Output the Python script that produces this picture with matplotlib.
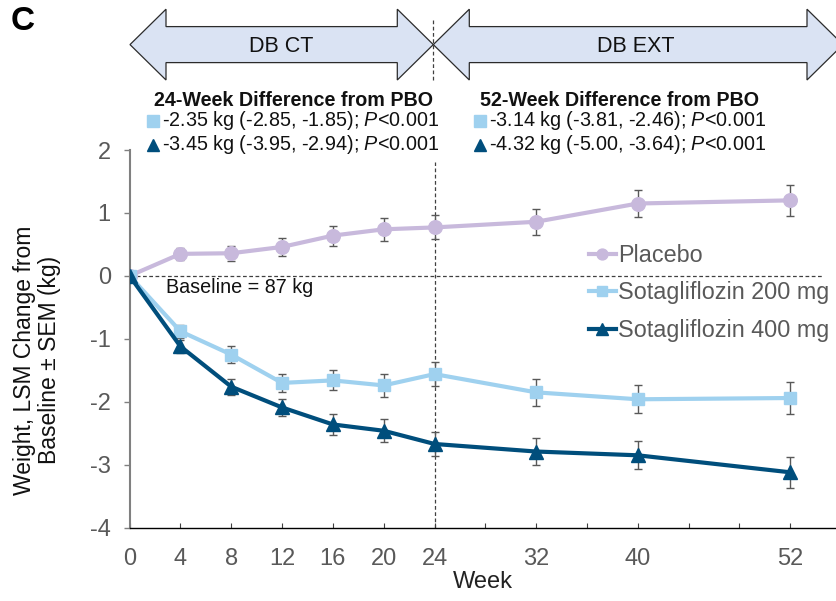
import matplotlib
matplotlib.use('Agg')
import matplotlib.pyplot as plt
from matplotlib.patches import Polygon
from matplotlib.lines import Line2D

plt.rcParams['font.family'] = ['Liberation Sans', 'DejaVu Sans']
plt.rcParams['mathtext.fontset'] = 'custom'
plt.rcParams['mathtext.rm'] = 'Liberation Sans'
plt.rcParams['mathtext.it'] = 'Liberation Sans:italic'
NARROW = ['Liberation Sans Narrow', 'Liberation Sans', 'DejaVu Sans']

# ── data ──────────────────────────────────────────────────────────────────
weeks = [0, 4, 8, 12, 16, 20, 24, 32, 40, 52]
placebo = [0, 0.35, 0.36, 0.46, 0.64, 0.74, 0.77, 0.86, 1.15, 1.20]
placebo_sem = [0, 0.10, 0.12, 0.14, 0.16, 0.18, 0.19, 0.21, 0.22, 0.25]
sota200 = [0, -0.88, -1.25, -1.70, -1.66, -1.74, -1.56, -1.85, -1.96, -1.94]
sota200_sem = [0, 0.10, 0.13, 0.14, 0.16, 0.18, 0.19, 0.21, 0.22, 0.25]
sota400 = [0, -1.12, -1.76, -2.09, -2.36, -2.46, -2.67, -2.79, -2.85, -3.12]
sota400_sem = [0, 0.10, 0.13, 0.14, 0.16, 0.18, 0.19, 0.21, 0.22, 0.25]

xticks = list(range(0, 53, 4))
xtick_labels = ['0', '4', '8', '12', '16', '20', '24', '', '32', '', '40', '', '', '52']
yticks = [-4, -3, -2, -1, 0, 1, 2]

diff24 = ['-2.35 kg (-2.85, -1.85); $\\it{P}$<0.001',
          '-3.45 kg (-3.95, -2.94); $\\it{P}$<0.001']
diff52 = ['-3.14 kg (-3.81, -2.46); $\\it{P}$<0.001',
          '-4.32 kg (-5.00, -3.64); $\\it{P}$<0.001']

PBO_C = '#c8b9dc'
S200_C = '#9fd1ef'
S400_C = '#004e7c'
GREY = '#595959'

W, H = 836, 601
fig = plt.figure(figsize=(W / 100, H / 100), dpi=100)


def px(x, y):
    return x / W, 1 - y / H


# ── main axes ─────────────────────────────────────────────────────────────
L, R, T, B = 129.6, 836, 150, 527.7
ax = fig.add_axes([L / W, 1 - B / H, (R - L) / W, (B - T) / H])
ax.set_xlim(0, 55.6)
ax.set_ylim(-4, 2)

ax.hlines(0, 0, 54.6, colors='#404040', linestyles=(0, (3, 2)), lw=0.9, zorder=1)
ax.vlines(24, -4, 1.81, colors='#404040', linestyles=(0, (3, 2)), lw=0.9, zorder=1)

series = [(placebo, placebo_sem, PBO_C, 'o', 9.8, 'Placebo'),
          (sota200, sota200_sem, S200_C, 's', 9, 'Sotagliflozin 200 mg'),
          (sota400, sota400_sem, S400_C, '^', 10, 'Sotagliflozin 400 mg')]
for vals, sem, col, mk, ms, lbl in series:
    ax.errorbar(weeks[1:], vals[1:], yerr=sem[1:], fmt='none', ecolor=GREY,
                elinewidth=1, capsize=2.8, capthick=1, zorder=2)
    ax.plot(weeks, vals, color=col, marker=mk, markersize=ms, lw=3,
            label=lbl, zorder=3)

ax.spines['top'].set_visible(False)
ax.spines['right'].set_visible(False)
ax.spines['left'].set_color('#808080')
ax.spines['left'].set_linewidth(1.5)
ax.spines['bottom'].set_color('black')
ax.spines['bottom'].set_linewidth(1)

ax.set_xticks(xticks)
ax.set_xticklabels(xtick_labels, family=NARROW)
ax.set_yticks(yticks)
ax.set_yticklabels([str(v) for v in yticks], family=NARROW)
ax.tick_params(axis='x', direction='in', length=3.5, color='#404040',
               labelcolor=GREY, labelsize=17, pad=14.5)
ax.tick_params(axis='y', direction='out', length=4.5, width=1, color='#808080',
               labelcolor=GREY, labelsize=17, pad=9)
ax.set_xlabel('Week', fontsize=17, color='#222222', labelpad=1, family=NARROW)

ax.text(2.9, -0.18, 'Baseline = 87 kg', fontsize=14.2, color='#111111',
        ha='left', va='center')

leg = ax.legend(loc='upper left', bbox_to_anchor=px(589, 244),
                bbox_transform=fig.transFigure, frameon=False, fontsize=16.8,
                borderpad=0, borderaxespad=0, handlelength=1.15,
                handletextpad=0.1, labelspacing=0.62, markerscale=0.8)
for t in leg.get_texts():
    t.set_color(GREY)

fig.text(*px(37, 360), 'Weight, LSM Change from\nBaseline ± SEM (kg)',
         rotation=90, ha='center', va='center', fontsize=16.5,
         linespacing=1.1, multialignment='center', color='#111111')

# ── header arrows ─────────────────────────────────────────────────────────
def double_arrow(x0, x1, yc=44.6, head=36, hh=35.4, sh=18):
    pts = [(x0, yc), (x0 + head, yc - hh), (x0 + head, yc - sh),
           (x1 - head, yc - sh), (x1 - head, yc - hh), (x1, yc),
           (x1 - head, yc + hh), (x1 - head, yc + sh), (x0 + head, yc + sh),
           (x0 + head, yc + hh)]
    poly = Polygon([px(x, y) for x, y in pts], closed=True,
                   transform=fig.transFigure, facecolor='#dae3f3',
                   edgecolor='#2b2b2b', lw=0.9)
    fig.patches.append(poly)


double_arrow(130, 433.3)
double_arrow(433.3, 843)
fig.lines.append(Line2D([433.3 / W] * 2, [1 - 20 / H, 1 - 80 / H],
                        transform=fig.transFigure, color='#404040',
                        lw=0.9, ls=(0, (3, 2))))
fig.text(*px(281, 46), 'DB CT', ha='center', va='center', fontsize=15.5,
         color='#111111')
fig.text(*px(636, 46), 'DB EXT', ha='center', va='center', fontsize=15.5,
         color='#111111')

fig.text(*px(23, 22), 'C', ha='center', va='center', fontsize=24,
         fontweight='bold')

# ── difference annotations ────────────────────────────────────────────────
for cx, mx, title, rows in [(293, 153, '24-Week Difference from PBO', diff24),
                            (620, 480, '52-Week Difference from PBO', diff52)]:
    fig.text(*px(cx, 100), title, ha='center', va='center', fontsize=14.2,
             fontweight='bold', color='#111111')
    for (row, mk, col), yy in zip(zip(rows, ['s', '^'], [S200_C, S400_C]),
                                  [121, 145]):
        fig.lines.append(Line2D([mx / W], [1 - yy / H], marker=mk,
                                markersize=8, color=col, ls='none',
                                transform=fig.transFigure))
        fig.text(*px(mx + 9, yy), row, ha='left', va='center', fontsize=14.2,
                 color='#111111')

fig.savefig('out.png', dpi=100)
